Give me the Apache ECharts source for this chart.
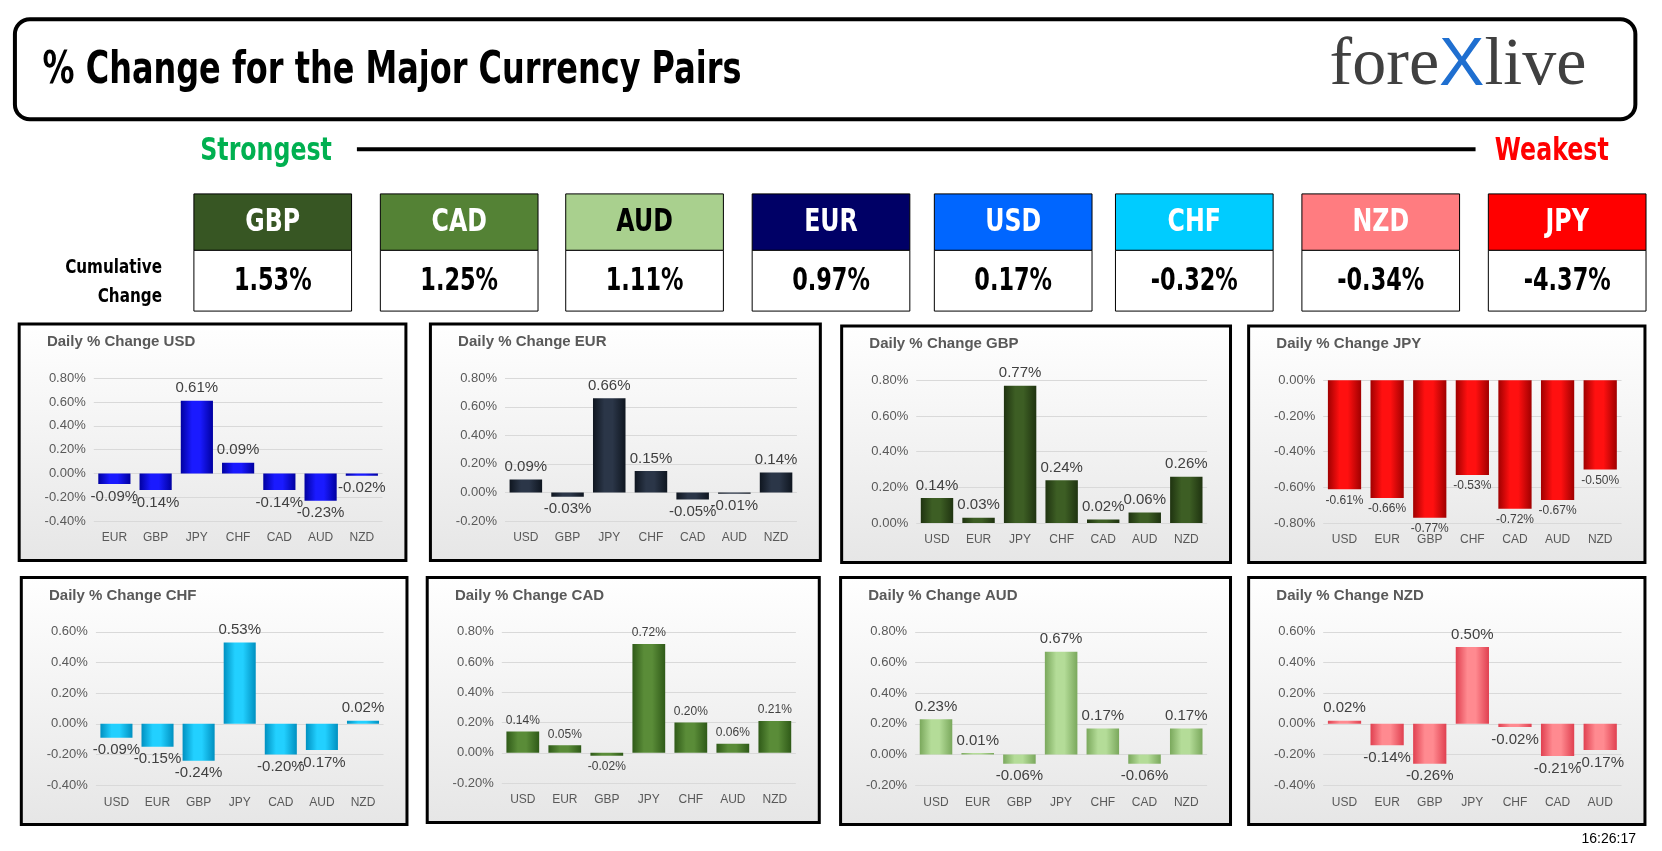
<!DOCTYPE html>
<html><head><meta charset="utf-8">
<script src="https://cdn.jsdelivr.net/npm/echarts@6/dist/echarts.min.js"></script>
<style>html,body{margin:0;padding:0;background:#fff}#c{width:1662px;height:851px}</style>
</head><body><div id="c"></div>
<script>
// ---- data ----
const rankCurrencies = ['GBP','CAD','AUD','EUR','USD','CHF','NZD','JPY'];
const cumulative = [1.53,1.25,1.11,0.97,0.17,-0.32,-0.34,-4.37];

const usdCats = ['EUR','GBP','JPY','CHF','CAD','AUD','NZD'];
const usdVals = [-0.09,-0.14,0.61,0.09,-0.14,-0.23,-0.02];
const eurCats = ['USD','GBP','JPY','CHF','CAD','AUD','NZD'];
const eurVals = [0.09,-0.03,0.66,0.15,-0.05,-0.01,0.14];
const gbpCats = ['USD','EUR','JPY','CHF','CAD','AUD','NZD'];
const gbpVals = [0.14,0.03,0.77,0.24,0.02,0.06,0.26];
const jpyCats = ['USD','EUR','GBP','CHF','CAD','AUD','NZD'];
const jpyVals = [-0.61,-0.66,-0.77,-0.53,-0.72,-0.67,-0.50];
const chfCats = ['USD','EUR','GBP','JPY','CAD','AUD','NZD'];
const chfVals = [-0.09,-0.15,-0.24,0.53,-0.20,-0.17,0.02];
const cadCats = ['USD','EUR','GBP','JPY','CHF','AUD','NZD'];
const cadVals = [0.14,0.05,-0.02,0.72,0.20,0.06,0.21];
const audCats = ['USD','EUR','GBP','JPY','CHF','CAD','NZD'];
const audVals = [0.23,0.01,-0.06,0.67,0.17,-0.06,0.17];
const nzdCats = ['USD','EUR','GBP','JPY','CHF','CAD','AUD'];
const nzdVals = [0.02,-0.14,-0.26,0.50,-0.02,-0.21,-0.17];
const timestamp = '16:26:17';

// ---- styling / layout ----
const S = 1662/1560;
const s = v => v*S;
const tileColors = {GBP:'#375623',CAD:'#548235',AUD:'#a9d08e',EUR:'#000066',USD:'#0066ff',CHF:'#00ccff',NZD:'#ff7c80',JPY:'#ff0000'};
const tileX = [182,357,531,706,877,1047,1222,1397];
const panels = [
 {name:'USD',cats:usdCats,vals:usdVals,rect:[18,304,363,222],min:-0.4,max:0.8,color:'#1a1aff',dark:'#0000a0',fs:14},
 {name:'EUR',cats:eurCats,vals:eurVals,rect:[404,304,366,222],min:-0.2,max:0.8,color:'#2b3648',dark:'#0f1620',fs:14},
 {name:'GBP',cats:gbpCats,vals:gbpVals,rect:[790,306,365,222],min:0,max:0.8,color:'#3d5e24',dark:'#1f3310',fs:14},
 {name:'JPY',cats:jpyCats,vals:jpyVals,rect:[1172,306,372,222],min:-0.8,max:0,color:'#ff1010',dark:'#a00000',fs:11},
 {name:'CHF',cats:chfCats,vals:chfVals,rect:[20,542,362,232],min:-0.4,max:0.6,color:'#22d0ff',dark:'#0090c0',fs:14},
 {name:'CAD',cats:cadCats,vals:cadVals,rect:[401,542,368,230],min:-0.2,max:0.8,color:'#5a8c38',dark:'#2f5a18',fs:11},
 {name:'AUD',cats:audCats,vals:audVals,rect:[789,542,366,232],min:-0.2,max:0.8,color:'#b4dc98',dark:'#7aa85c',fs:14},
 {name:'NZD',cats:nzdCats,vals:nzdVals,rect:[1172,542,372,232],min:-0.4,max:0.6,color:'#ff8a90',dark:'#e04050',fs:14}
];
const bold = 'DejaVu Sans';
function ctext(x,y,text,size,fill,align,sx){
  return {type:'text',x:s(x),y:s(y),scaleX:sx||0.78,style:{text:text,font:'bold '+Math.round(s(size))+'px "'+bold+'"',fill:fill,textAlign:align||'left',textVerticalAlign:'middle'}};
}

const graphic = [];
graphic.push({type:'rect',shape:{x:s(14),y:s(18),width:s(1521),height:s(94),r:s(14)},style:{fill:'#fff',stroke:'#000',lineWidth:4}});
graphic.push(ctext(40,67,'% Change for the Major Currency Pairs',42,'#000','left',0.71));
graphic.push({type:'text',x:s(1248),y:s(62),style:{text:'{a|fore}{b|X}{a|live}',textVerticalAlign:'middle',rich:{a:{fontFamily:'Liberation Serif',fontSize:Math.round(s(64)),fill:'#404040'},b:{fontFamily:'Liberation Sans',fontSize:Math.round(s(64)),fill:'#1f6fd0'}}}});
graphic.push(ctext(188,142,'Strongest',30,'#00b050','left',0.74));
graphic.push({type:'line',shape:{x1:s(335),y1:s(140),x2:s(1385),y2:s(140)},style:{stroke:'#000',lineWidth:4}});
graphic.push(ctext(1510,142,'Weakest',30,'#ff0000','right',0.74));
graphic.push(ctext(152,251,'Cumulative',19,'#000','right',0.76));
graphic.push(ctext(152,279,'Change',19,'#000','right',0.76));
rankCurrencies.forEach((c,i)=>{
  const x=tileX[i], w=148;
  graphic.push({type:'rect',shape:{x:s(x),y:s(182),width:s(w),height:s(53)},style:{fill:tileColors[c],stroke:'#000',lineWidth:1}});
  graphic.push({type:'rect',shape:{x:s(x),y:s(235),width:s(w),height:s(57)},style:{fill:'#fff',stroke:'#000',lineWidth:1}});
  graphic.push(ctext(x+w/2,209,c,30,c==='AUD'?'#000':'#fff','center',0.74));
  graphic.push(ctext(x+w/2,264,cumulative[i].toFixed(2)+'%',30,'#000','center',0.70));
});
graphic.push({type:'text',x:s(1510),y:s(788),style:{text:timestamp,font:'14px "Liberation Sans"',fill:'#000',textAlign:'center',textVerticalAlign:'middle'}});

const grids=[],xAxes=[],yAxes=[],series=[];
panels.forEach((p,i)=>{
  const [x,y,w,h]=p.rect;
  graphic.push({type:'rect',z:-10,shape:{x:s(x),y:s(y),width:s(w),height:s(h)},style:{fill:{type:'linear',x:0,y:0,x2:0,y2:1,colorStops:[{offset:0,color:'#ffffff'},{offset:1,color:'#e6e6e6'}]},stroke:'#000',lineWidth:3}});
  graphic.push({type:'text',x:s(x+26),y:s(y+17),style:{text:'Daily % Change '+p.name,font:'bold 15px "Liberation Sans"',fill:'#595959',textVerticalAlign:'middle'}});
  grids.push({left:s(x+70),width:s(w-92),top:s(y+51),height:s(h-88)});
  xAxes.push({type:'category',gridIndex:i,data:p.cats,position:'bottom',axisLine:{show:false},axisTick:{show:false},
    axisLabel:{color:'#595959',fontSize:12,fontFamily:'Liberation Sans',margin:11}});
  yAxes.push({type:'value',gridIndex:i,min:p.min,max:p.max,interval:0.2,
    axisLabel:{color:'#595959',fontSize:13,fontFamily:'Liberation Sans',formatter:v=>v.toFixed(2)+'%'},
    splitLine:{lineStyle:{color:'#d9d9d9'}},axisLine:{show:false},axisTick:{show:false}});
  series.push({type:'bar',xAxisIndex:i,yAxisIndex:i,barCategoryGap:'22%',
    itemStyle:{color:{type:'linear',x:0,y:0,x2:1,y2:0,colorStops:[{offset:0,color:p.dark},{offset:0.35,color:p.color},{offset:0.6,color:p.color},{offset:1,color:p.dark}]}},
    label:{show:true,formatter:d=>d.value.toFixed(2)+'%',color:'#404040',fontSize:p.fs+1,fontFamily:'Liberation Sans'},
    data:p.vals.map(v=>({value:v,label:{position:v<0?'bottom':'top'}}))});
});

const chart=echarts.init(document.getElementById('c'));
chart.setOption({animation:false,graphic:graphic,grid:grids,xAxis:xAxes,yAxis:yAxes,series:series});
</script></body></html>
